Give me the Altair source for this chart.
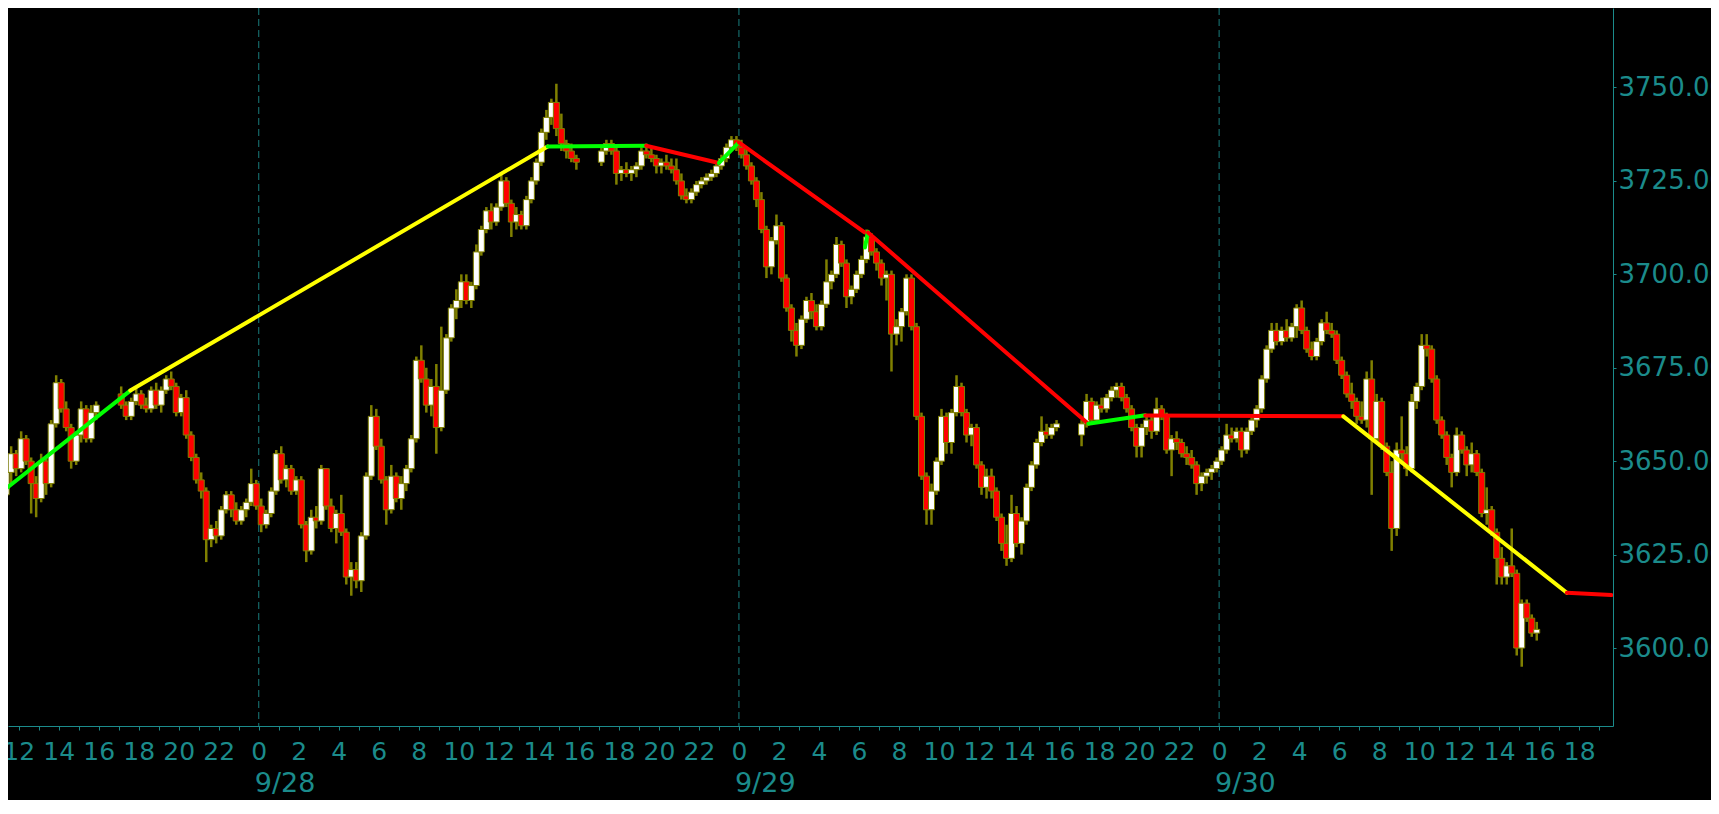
import altair as alt
import pandas as pd

# ---------------- data: 15-minute OHLC bars (CT), four sessions ----------------
s1_start = "2022-09-27 11:15"
s1_open  = [3641,3647,3652,3648,3656,3650,3644,3640,3650,3644,3660,3671,3664,3659,3650,3657,3664,3656,3663]
s1_high  = [3659,3654,3653,3658,3657,3651,3646,3652,3651,3661,3673,3672,3666,3660,3658,3666,3665,3665,3666]
s1_low   = [3638,3644,3646,3647,3649,3636,3635,3639,3641,3643,3659,3663,3658,3648,3649,3655,3655,3655,3661]
s1_close = [3647,3652,3648,3656,3650,3644,3640,3650,3644,3660,3671,3664,3659,3650,3657,3664,3656,3663,3665]

s2_start = "2022-09-27 17:00"
s2_open  = [3668,3665,3662,3666,3668,3665,3664,3669,3665,3669,3672,3670,3663,3667,3657,3651,3645,3642,3629,3632,
            3630,3637,3641,3637,3634,3637,3639,3644,3638,3633,3636,3642,3652,3645,3648,3642,3645,3633,3626,3635,
            3634,3648,3638,3632,3636,3631,3619,3621,3618,3630,3646,3662,3654,3645,3637,3646,3640,3644,3648,3656,
            3677,3672,3665,3670,3659,3669,3683,3691,3693,3698,3693,3697,3706,3712,3717,3714,3718,3725,3719,3714,
            3716,3713,3720,3725,3730,3738,3742,3746,3739,3735,3733,3731]
s2_high  = [3670,3666,3667,3670,3669,3667,3670,3671,3670,3673,3674,3671,3668,3669,3658,3652,3647,3643,3633,3634,
            3638,3642,3642,3639,3638,3640,3648,3645,3640,3637,3643,3653,3654,3649,3649,3646,3646,3634,3637,3638,
            3649,3648,3640,3637,3641,3632,3623,3623,3631,3647,3665,3664,3656,3646,3649,3647,3646,3649,3657,3678,
            3681,3675,3672,3676,3686,3684,3692,3696,3700,3700,3698,3708,3713,3718,3719,3719,3727,3726,3720,3718,
            3717,3721,3726,3731,3739,3744,3747,3751,3743,3736,3735,3732]
s2_low   = [3664,3661,3661,3665,3664,3663,3663,3664,3663,3668,3669,3662,3662,3656,3650,3644,3640,3623,3627,3628,
            3629,3636,3635,3633,3633,3635,3638,3637,3631,3632,3635,3641,3644,3643,3641,3641,3632,3623,3625,3632,
            3633,3637,3631,3628,3630,3617,3614,3616,3615,3629,3645,3653,3644,3633,3636,3639,3637,3642,3647,3655,
            3671,3663,3662,3652,3658,3668,3682,3688,3691,3692,3691,3696,3705,3711,3712,3713,3717,3718,3710,3712,
            3712,3712,3719,3724,3729,3736,3740,3737,3733,3731,3730,3728]
s2_close = [3665,3662,3666,3668,3665,3664,3669,3665,3669,3672,3670,3663,3667,3657,3651,3645,3642,3629,3632,3630,
            3637,3641,3637,3634,3637,3639,3644,3638,3633,3636,3642,3652,3645,3648,3642,3645,3633,3626,3635,3634,
            3648,3638,3632,3636,3631,3619,3621,3618,3630,3646,3662,3654,3645,3637,3646,3640,3644,3648,3656,3677,
            3672,3665,3670,3659,3669,3683,3691,3693,3698,3693,3697,3706,3712,3717,3714,3718,3725,3719,3714,3716,
            3713,3720,3725,3730,3738,3742,3746,3739,3735,3733,3731,3730]

s3_start = "2022-09-28 17:00"
s3_open  = [3730,3733,3735,3733,3727,3728,3727,3728,3729,3733,3732,3731,3729,3730,3729,3728,3725,3721,3720,3722,
            3724,3725,3726,3727,3729,3731,3734,3736,3734,3732,3729,3725,3720,3712,3702,3709,3713,3699,3691,3685,
            3681,3688,3693,3690,3686,3692,3698,3700,3708,3703,3694,3696,3700,3704,3710,3706,3703,3699,3700,3684,
            3686,3690,3699,3686,3662,3646,3637,3642,3650,3662,3655,3663,3670,3663,3657,3659,3649,3643,3646,3642,
            3635,3628,3624,3636,3628,3634,3643,3649,3655,3658,3657,3659]
s3_high  = [3734,3736,3736,3734,3729,3730,3729,3730,3734,3735,3734,3732,3731,3732,3731,3731,3727,3723,3723,3725,
            3726,3727,3728,3730,3732,3735,3737,3737,3736,3734,3730,3726,3722,3713,3710,3716,3714,3700,3692,3687,
            3689,3694,3695,3692,3693,3704,3701,3710,3709,3704,3697,3701,3705,3712,3711,3707,3704,3701,3701,3688,
            3691,3700,3700,3687,3663,3647,3644,3651,3664,3663,3664,3673,3671,3664,3660,3660,3650,3648,3648,3643,
            3636,3633,3641,3638,3635,3644,3650,3656,3662,3660,3660,3661]
s3_low   = [3729,3732,3732,3724,3725,3726,3725,3726,3728,3731,3730,3727,3727,3728,3727,3724,3720,3719,3719,3721,
            3723,3724,3725,3726,3728,3730,3733,3733,3731,3728,3724,3718,3711,3699,3700,3708,3698,3690,3682,3678,
            3680,3687,3688,3685,3685,3691,3696,3699,3702,3691,3692,3695,3699,3703,3705,3701,3697,3693,3674,3681,
            3682,3689,3685,3661,3645,3633,3633,3641,3649,3652,3652,3662,3662,3655,3654,3648,3641,3640,3640,3634,
            3626,3622,3623,3627,3625,3633,3642,3648,3654,3656,3656,3658]
s3_close = [3733,3735,3733,3727,3728,3727,3728,3729,3733,3732,3731,3729,3730,3729,3728,3725,3721,3720,3722,3724,
            3725,3726,3727,3729,3731,3734,3736,3734,3732,3729,3725,3720,3712,3702,3709,3713,3699,3691,3685,3681,
            3688,3693,3690,3686,3692,3698,3700,3708,3703,3694,3696,3700,3704,3710,3706,3703,3699,3700,3684,3686,
            3690,3699,3686,3662,3646,3637,3642,3650,3662,3655,3663,3670,3663,3657,3659,3649,3643,3646,3642,3635,
            3628,3624,3636,3628,3634,3643,3649,3655,3658,3657,3659,3660]

s4_start = "2022-09-29 17:00"
s4_open  = [3657,3660,3666,3661,3665,3664,3667,3669,3670,3667,3664,3659,3654,3659,3661,3658,3664,3662,3653,3656,
            3655,3652,3651,3649,3644,3646,3647,3648,3650,3653,3657,3656,3658,3653,3658,3661,3664,3672,3680,3685,
            3682,3685,3683,3686,3691,3685,3680,3678,3682,3687,3685,3684,3677,3673,3668,3666,3662,3661,3672,3656,
            3666,3654,3647,3632,3653,3652,3648,3666,3670,3681,3680,3672,3661,3657,3651,3647,3657,3653,3649,3652,
            3647,3636,3637,3631,3624,3619,3622,3620,3600,3612,3608,3604]
s4_high  = [3661,3668,3667,3666,3667,3668,3670,3671,3671,3668,3665,3660,3660,3662,3662,3667,3665,3663,3657,3658,
            3656,3654,3653,3650,3647,3648,3649,3651,3654,3660,3659,3659,3659,3659,3662,3665,3673,3681,3687,3687,
            3686,3688,3687,3692,3693,3686,3682,3683,3688,3690,3687,3685,3678,3674,3671,3667,3666,3674,3677,3668,
            3667,3655,3650,3655,3662,3654,3668,3671,3684,3684,3681,3673,3662,3658,3652,3659,3658,3654,3655,3653,
            3648,3643,3638,3632,3627,3623,3632,3621,3613,3613,3609,3607]
s4_low   = [3654,3659,3660,3660,3663,3663,3666,3667,3666,3663,3658,3651,3651,3657,3656,3657,3661,3652,3646,3653,
            3651,3649,3648,3641,3642,3644,3645,3647,3649,3652,3655,3655,3651,3652,3657,3659,3663,3671,3679,3681,
            3681,3682,3682,3683,3684,3679,3677,3677,3681,3684,3683,3676,3672,3667,3664,3660,3660,3659,3641,3655,
            3653,3646,3626,3630,3650,3646,3647,3664,3669,3678,3671,3660,3656,3649,3643,3646,3652,3646,3647,3646,
            3635,3633,3630,3617,3617,3617,3619,3598,3595,3607,3603,3602]
s4_close = [3660,3666,3661,3665,3664,3667,3669,3670,3667,3664,3659,3654,3659,3661,3658,3664,3662,3653,3656,3655,
            3652,3651,3649,3644,3646,3647,3648,3650,3653,3657,3656,3658,3653,3658,3661,3664,3672,3680,3685,3682,
            3685,3683,3686,3691,3685,3680,3678,3682,3687,3685,3684,3677,3673,3668,3666,3662,3661,3672,3656,3666,
            3654,3647,3632,3653,3652,3648,3666,3670,3681,3680,3672,3661,3657,3651,3647,3657,3653,3649,3652,3647,
            3636,3637,3631,3624,3619,3622,3620,3600,3612,3608,3604,3605]

# zig-zag overlay: (segment, colour, start hour, start price, end hour, end price)
# hours are counted from 2022-09-28 00:00
zz_seg   = ["g1", "y1", "g2", "r1", "g3", "r2", "g4", "r3", "g5", "r4", "y2", "r5"]
zz_color = ["#00ff00", "#ffff00", "#00ff00", "#ff0000", "#00ff00", "#ff0000",
            "#00ff00", "#ff0000", "#00ff00", "#ff0000", "#ffff00", "#ff0000"]
zz_h0 = [-12.6, -6.42, 14.44, 19.36, 23.0, 24.0, 30.30, 30.45, 41.46, 44.31, 54.21, 65.38]
zz_p0 = [3642.8, 3668.9, 3734.2, 3734.4, 3729.8, 3735.3, 3707.2, 3711.2, 3660.0, 3662.2, 3662.0, 3614.8]
zz_h1 = [-6.42, 14.44, 19.36, 23.0, 24.0, 30.28, 30.45, 41.46, 44.31, 54.21, 65.38, 67.6]
zz_p1 = [3668.9, 3734.2, 3734.4, 3729.8, 3735.3, 3711.2, 3711.4, 3660.0, 3662.3, 3662.0, 3614.8, 3614.2]

day_hours  = [0, 24, 48]
day_labels = ["9/28", "9/29", "9/30"]
y_ticks = [3600, 3625, 3650, 3675, 3700, 3725, 3750]

# ---------------- build tables ----------------
origin = pd.Timestamp("2022-09-28 00:00")
frames = []
for start, o, h, l, c in [(s1_start, s1_open, s1_high, s1_low, s1_close),
                          (s2_start, s2_open, s2_high, s2_low, s2_close),
                          (s3_start, s3_open, s3_high, s3_low, s3_close),
                          (s4_start, s4_open, s4_high, s4_low, s4_close)]:
    t = pd.date_range(start, periods=len(c), freq="15min")
    frames.append(pd.DataFrame({"t": t, "o": o, "h": h, "l": l, "c": c}))
bars = pd.concat(frames, ignore_index=True)
bars["x"] = (bars["t"] - origin) / pd.Timedelta(hours=1) + 0.125
bars["dir"] = ["up" if cc >= oo else "down" for oo, cc in zip(bars["o"], bars["c"])]
bars = bars.drop(columns=["t"])

rows = []
for s, h0, p0, h1, p1 in zip(zz_seg, zz_h0, zz_p0, zz_h1, zz_p1):
    rows.append({"seg": s, "hh": h0, "pp": p0, "k": 0})
    rows.append({"seg": s, "hh": h1, "pp": p1, "k": 1})
zz = pd.DataFrame(rows)

days = pd.DataFrame({"hh": day_hours, "lab": day_labels})
mids = pd.DataFrame({"hh": day_hours})

# ---------------- chart ----------------
TEAL = "#1b8b8b"
FONT = "DejaVu Sans"
W, H = 1605, 718
xs = alt.Scale(domain=[-12.283, 67.437], nice=False, zero=False)
ys = alt.Scale(domain=[3579.14, 3771.27], nice=False, zero=False)

xaxis = alt.Axis(
    title=None, values=list(range(-12, 68)), grid=False,
    labelExpr="datum.value % 2 == 0 ? '' + (((datum.value % 24) + 24) % 24) : ''",
    labelOverlap=False, labelColor=TEAL, labelFont=FONT, labelFontSize=25,
    labelBaseline="middle", labelPadding=21, labelFlush=False,
    tickColor=TEAL, tickSize=4, domainColor=TEAL, domainWidth=1,
)
yaxis = alt.Axis(
    title=None, orient="right", values=y_ticks, format=".3f", grid=False,
    labelColor=TEAL, labelFont=FONT, labelFontSize=26, labelPadding=2,
    labelFlush=False, labelOverlap=False, labelAlign="left",
    tickColor=TEAL, tickSize=3, domainColor=TEAL, domainWidth=1,
)

grid = alt.Chart(mids).mark_rule(color=TEAL, strokeWidth=1, strokeDash=[7, 4], opacity=0.9).encode(
    x=alt.X("hh:Q", scale=xs, axis=xaxis)
)

wicks = alt.Chart(bars).mark_rule(color="#808000", strokeWidth=2.5, clip=True).encode(
    x=alt.X("x:Q", scale=xs, axis=xaxis),
    y=alt.Y("l:Q", scale=ys, axis=yaxis),
    y2="h:Q",
)

bodies = alt.Chart(bars).mark_bar(size=6, stroke="#808000", strokeWidth=1, clip=True).encode(
    x=alt.X("x:Q", scale=xs, axis=xaxis),
    y=alt.Y("o:Q", scale=ys, axis=yaxis),
    y2="c:Q",
    color=alt.Color("dir:N", scale=alt.Scale(domain=["up", "down"], range=["#ffffff", "#ff0000"]), legend=None),
)

lines = alt.Chart(zz).mark_line(strokeWidth=4, strokeCap="round", clip=True).encode(
    x=alt.X("hh:Q", scale=xs, axis=xaxis),
    y=alt.Y("pp:Q", scale=ys, axis=yaxis),
    color=alt.Color("seg:N", scale=alt.Scale(domain=zz_seg, range=zz_color), legend=None),
    order="k:Q",
)

dates = alt.Chart(days).mark_text(align="left", baseline="middle", dx=-4, font=FONT,
                                   fontSize=27, color=TEAL).encode(
    x=alt.X("hh:Q", scale=xs, axis=xaxis),
    y=alt.value(776),
    text="lab:N",
)

chart = alt.layer(grid, wicks, bodies, lines, dates).resolve_scale(
    color="independent"
).properties(
    width=W, height=H, background="black",
    padding={"left": 0, "top": 0, "right": 98, "bottom": 74},
    autosize=alt.AutoSizeParams(type="none"),
).configure_view(stroke=None)

chart.save("out.html", embed_options={"renderer": "svg", "actions": False})
